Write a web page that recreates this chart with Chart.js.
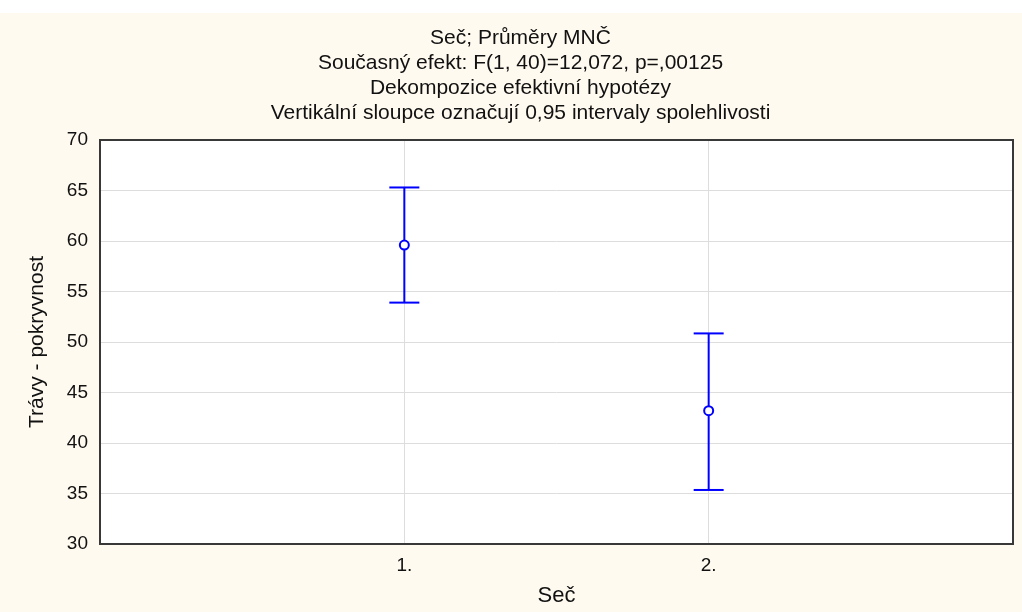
<!DOCTYPE html>
<html>
<head>
<meta charset="utf-8">
<script src="https://cdn.jsdelivr.net/npm/chart.js@4/dist/chart.umd.min.js"></script>
<style>
  html, body { margin: 0; padding: 0; background: #ffffff; overflow: hidden; }
  #wrap { position: absolute; left: 0; top: 13px; width: 1022px; height: 599px; background: #fffaef; overflow: hidden; }
  #graf { display: block; }
</style>
</head>
<body>
<div id="wrap"><canvas id="graf" width="1030" height="599"></canvas></div>
<script>
// kategorie a hodnoty (průměry MNČ a meze 0,95 intervalů spolehlivosti)
const kategorie = ['1.', '2.'];
const prumery = [59.6, 43.2];
const dolniMez = [53.9, 35.35];
const horniMez = [65.3, 50.85];

const yTicks = [30, 35, 40, 45, 50, 55, 60, 65, 70];

const titulky = [
    'Seč; Průměry MNČ',
    'Současný efekt: F(1, 40)=12,072, p=,00125',
    'Dekompozice efektivní hypotézy',
    'Vertikální sloupce označují 0,95 intervaly spolehlivosti'
];

const modra = '#0000ff';
const pismo = "'Liberation Sans', Arial, sans-serif";

// svislé sloupce (intervaly) - každý jako čára mezi dolní a horní mezí
const sloupce = kategorie.map((k, i) => ({
    type: 'line',
    data: [{ x: i + 1, y: dolniMez[i] }, { x: i + 1, y: horniMez[i] }],
    borderColor: modra,
    borderWidth: 2,
    pointStyle: 'line',
    pointRadius: 15,
    pointBorderWidth: 2,
    pointBorderColor: modra,
    pointHoverRadius: 15,
    fill: false,
    order: 2
}));

// bílé pozadí grafu a rámeček okolo
const ramecek = {
    id: 'ramecek',
    beforeDraw(chart) {
        const a = chart.chartArea, c = chart.ctx;
        c.save();
        c.fillStyle = '#ffffff';
        c.fillRect(a.left, a.top, a.right - a.left, a.bottom - a.top);
        c.restore();
    },
    afterDraw(chart) {
        const a = chart.chartArea, c = chart.ctx;
        c.save();
        c.strokeStyle = '#383838';
        c.lineWidth = 2;
        c.strokeRect(a.left, a.top, a.right - a.left, a.bottom - a.top);
        c.restore();
    }
};

const ctx = document.getElementById('graf').getContext('2d');
new Chart(ctx, {
    type: 'scatter',
    data: {
        datasets: [
            ...sloupce,
            {
                type: 'scatter',
                data: prumery.map((v, i) => ({ x: i + 1, y: v })),
                pointStyle: 'circle',
                pointRadius: 4.5,
                pointBorderWidth: 2,
                borderColor: modra,
                backgroundColor: '#ffffff',
                order: 1
            }
        ]
    },
    options: {
        responsive: false,
        animation: false,
        layout: { padding: { left: 20, right: 9, top: 0, bottom: 0 } },
        plugins: {
            legend: { display: false },
            tooltip: { enabled: false },
            title: {
                display: true,
                text: titulky,
                color: '#111111',
                font: { family: pismo, size: 21, weight: 'normal', lineHeight: '25px' },
                padding: { top: 13, bottom: 14 }
            }
        },
        scales: {
            x: {
                type: 'linear',
                min: 0,
                max: 3,
                afterBuildTicks: s => { s.ticks = [0, 1, 2, 3].map(v => ({ value: v })); },
                afterFit: s => { s.height = 68; s.paddingLeft = 0; s.paddingRight = 0; },
                ticks: {
                    callback: v => kategorie[v - 1] || '',
                    color: '#111111',
                    font: { family: pismo, size: 19 },
                    padding: 10,
                    maxRotation: 0
                },
                grid: { color: '#dddddd', drawTicks: false },
                border: { display: false },
                title: {
                    display: true,
                    text: 'Seč',
                    color: '#111111',
                    font: { family: pismo, size: 22 },
                    padding: { top: 0, bottom: 3 }
                }
            },
            y: {
                min: 30,
                max: 70,
                afterBuildTicks: s => { s.ticks = yTicks.map(v => ({ value: v })); },
                afterFit: s => { s.width = 80; },
                ticks: {
                    color: '#111111',
                    font: { family: pismo, size: 19 },
                    padding: 12
                },
                grid: { color: '#dddddd', drawTicks: false },
                border: { display: false },
                title: {
                    display: true,
                    text: 'Trávy - pokryvnost',
                    color: '#111111',
                    font: { family: pismo, size: 21 },
                    padding: { top: 5, bottom: 0 }
                }
            }
        }
    },
    plugins: [ramecek]
});
</script>
</body>
</html>
